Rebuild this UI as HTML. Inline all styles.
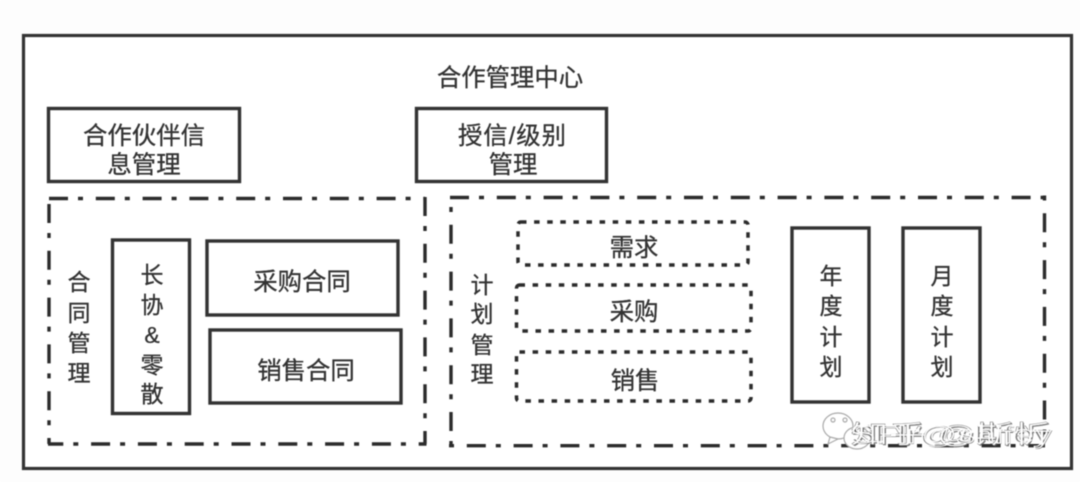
<!DOCTYPE html>
<html lang="zh">
<head>
<meta charset="utf-8">
<title>合作管理中心</title>
<style>
html,body{margin:0;padding:0;background:#fdfdfd;width:1080px;height:482px;overflow:hidden}
svg{display:block;filter:blur(.45px)}
text{font-family:"Liberation Sans","Noto Sans CJK SC",sans-serif;fill:#333;stroke:#333;stroke-width:.3;font-size:24.4px;text-anchor:middle}
.s{font-size:23px}
.box{fill:#fff;stroke:#333;stroke-width:3.4}
.dd{fill:none;stroke:#2c2c2c;stroke-width:3.4;stroke-dasharray:19 10 5 12.8}
.dot{fill:none;stroke:#2c2c2c;stroke-width:3.5;stroke-dasharray:5.5 7.6}
.wk{fill:#555;stroke:none;font-size:25px;opacity:.75}
.wm{fill:#fff;stroke:#777;stroke-width:.4;font-size:25px}
</style>
</head>
<body>
<svg width="1080" height="482" viewBox="0 0 1080 482" xmlns="http://www.w3.org/2000/svg">
<rect x="0" y="0" width="1080" height="482" fill="#fdfdfd"/>
<rect x="23.5" y="35.5" width="1048" height="433" fill="#fff" stroke="#333" stroke-width="3.2"/>
<text x="510" y="86">合作管理中心</text>

<rect class="box" x="48.5" y="108.5" width="191" height="73"/>
<text x="144" y="144">合作伙伴信</text>
<text x="144" y="173">息管理</text>

<rect class="box" x="416.5" y="108.5" width="190" height="73"/>
<text x="512" y="144" textLength="108" lengthAdjust="spacing">授信/级别</text>
<text x="513" y="173">管理</text>

<line class="dd" x1="49" y1="198.5" x2="425" y2="198.5"/>
<line class="dd" x1="425" y1="197" x2="425" y2="444"/>
<line class="dd" x1="49" y1="204" x2="49" y2="444"/>
<line class="dd" x1="48" y1="444" x2="426.5" y2="444" stroke-dashoffset="3.7"/>
<text class="s" x="79" y="290">合</text>
<text class="s" x="79" y="321">同</text>
<text class="s" x="79" y="351">管</text>
<text class="s" x="79" y="381">理</text>

<rect class="box" x="112.5" y="240" width="77" height="173.5"/>
<text class="s" x="152" y="283">长</text>
<text class="s" x="152" y="313">协</text>
<text class="s" x="152" y="343">&amp;</text>
<text class="s" x="152" y="373">零</text>
<text class="s" x="152" y="402">散</text>

<rect class="box" x="207" y="241" width="191" height="74"/>
<text x="302" y="290">采购合同</text>
<rect class="box" x="210" y="330" width="191" height="73"/>
<text x="306" y="379">销售合同</text>

<line class="dd" x1="450" y1="197.5" x2="1045" y2="197.5"/>
<line class="dd" x1="451" y1="207" x2="451" y2="448" stroke-dashoffset="29"/>
<line class="dd" x1="1044.5" y1="195.5" x2="1044.5" y2="446" stroke-dashoffset="29"/>
<line class="dd" x1="449" y1="445.7" x2="1045" y2="445.7" stroke-dashoffset="29"/>
<text class="s" x="482" y="293">计</text>
<text class="s" x="482" y="322">划</text>
<text class="s" x="482" y="353">管</text>
<text class="s" x="482" y="382">理</text>

<rect class="dot" x="518" y="222" width="230" height="43" rx="3"/>
<text x="634" y="256">需求</text>
<rect class="dot" x="516.5" y="285" width="234.5" height="46" rx="3"/>
<text x="634" y="320">采购</text>
<rect class="dot" x="516.5" y="352" width="234.5" height="49" rx="3"/>
<text x="635" y="389">销售</text>

<rect class="box" x="792" y="228" width="77" height="174"/>
<text class="s" x="831" y="284">年</text>
<text class="s" x="831" y="314">度</text>
<text class="s" x="831" y="345">计</text>
<text class="s" x="831" y="375">划</text>

<rect class="box" x="903" y="228" width="77" height="174"/>
<text class="s" x="942" y="284">月</text>
<text class="s" x="942" y="314">度</text>
<text class="s" x="942" y="345">计</text>
<text class="s" x="942" y="375">划</text>

<g fill="#fff" stroke="#aaa" stroke-width="1.2">
<ellipse cx="838" cy="426" rx="15" ry="13"/>
<path d="M830 437 L828 444 L838 439 Z"/>
<ellipse cx="857" cy="438" rx="13" ry="11"/>
<circle cx="833" cy="420" r="2"/>
<circle cx="845" cy="420" r="2"/>
</g>
<text class="wk" x="952" y="444" textLength="201" lengthAdjust="spacingAndGlyphs">知乎 @斯忻</text>
<text class="wk" x="952" y="444" textLength="201" lengthAdjust="spacingAndGlyphs">SFIr@shifey</text>
<text class="wm" x="951" y="443" textLength="201" lengthAdjust="spacingAndGlyphs">知乎 @斯忻</text>
<text class="wm" x="951" y="443" textLength="201" lengthAdjust="spacingAndGlyphs" style="fill:none;stroke:#fff;stroke-width:1">SFIr@shifey</text>
</svg>
</body>
</html>
